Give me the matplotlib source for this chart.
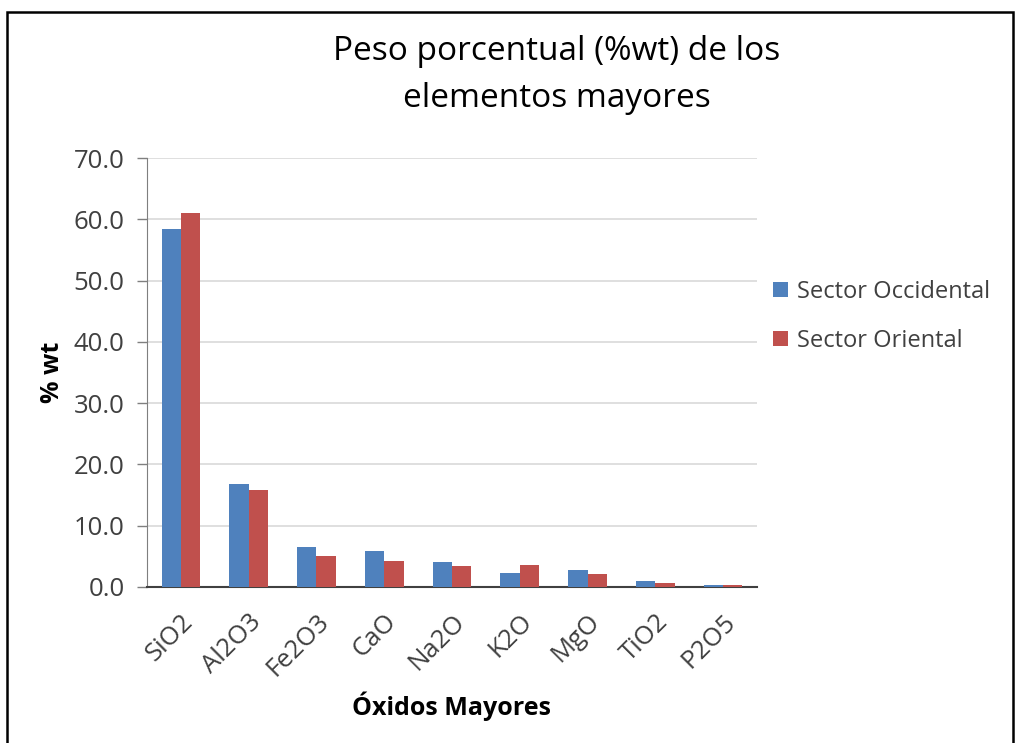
import numpy as np
import matplotlib.pyplot as plt
import matplotlib.transforms as mtransforms
from matplotlib.patches import Rectangle

# Major oxide weight percentages for the two sectors
oxidos = ["SiO2", "Al2O3", "Fe2O3", "CaO", "Na2O", "K2O", "MgO", "TiO2", "P2O5"]
occidental = [58.4, 16.8, 6.5, 5.8, 4.0, 2.3, 2.8, 0.9, 0.27]
oriental = [61.0, 15.9, 5.1, 4.3, 3.4, 3.6, 2.1, 0.65, 0.25]
yticks = [0, 10, 20, 30, 40, 50, 60, 70]

plt.rcParams['font.family'] = ['Open Sans', 'DejaVu Sans']
text_color = '#404040'

fig = plt.figure(figsize=(10.18, 7.43), dpi=100)
ax = fig.add_axes([0.1444, 0.2100, 0.5992, 0.5773])

# Frame around the whole chart
fig.patches.append(Rectangle((7 / 1018, -0.01), (1013 - 7) / 1018, 1 - 12 / 743 + 0.01,
                             transform=fig.transFigure, fill=False,
                             edgecolor='black', linewidth=1.8))

x = np.arange(len(oxidos))
w = 0.285
ax.bar(x - w / 2, occidental, w, color='#4F81BD', label='Sector Occidental', zorder=3)
ax.bar(x + w / 2, oriental, w, color='#C0504D', label='Sector Oriental', zorder=3)

ax.set_xlim(-0.5, len(oxidos) - 0.5)
ax.set_ylim(0, 70)
ax.set_yticks(yticks)
ax.set_yticklabels([f"{v:.1f}" for v in yticks], fontsize=18.5, color=text_color)
ax.yaxis.grid(True, color='#d9d9d9', linewidth=1.2, zorder=0)

ax.set_xticks(x)
ax.set_xticklabels(oxidos, rotation=45, ha='right', rotation_mode='anchor',
                   fontsize=18.5, color=text_color)
shift = mtransforms.ScaledTranslation(10 / 100, 0, fig.dpi_scale_trans)
for lbl in ax.get_xticklabels():
    lbl.set_transform(lbl.get_transform() + shift)
ax.tick_params(axis='x', length=0, pad=16)
ax.tick_params(axis='y', length=7, width=1, color='#7f7f7f', pad=9, direction='out')

for side in ['top', 'right']:
    ax.spines[side].set_visible(False)
ax.spines['left'].set_color('#7f7f7f')
ax.spines['bottom'].set_color('#404040')
ax.spines['bottom'].set_linewidth(1.5)

ax.set_ylabel('% wt', fontsize=18, fontweight='bold', color='black', labelpad=6)
ax.set_xlabel('Óxidos Mayores', fontsize=18, fontweight='bold', color='black', labelpad=7)

fig.text(0.547, 0.953, 'Peso porcentual (%wt) de los\nelementos mayores',
         ha='center', va='top', fontsize=24, color='black', linespacing=1.55)

ax.legend(loc='center left', bbox_to_anchor=(0.992, 0.631), frameon=False,
          fontsize=17, handlelength=0.6, handleheight=0.6, handletextpad=0.4,
          labelspacing=1.05, labelcolor=text_color)

fig.savefig('out.png', dpi=100)
